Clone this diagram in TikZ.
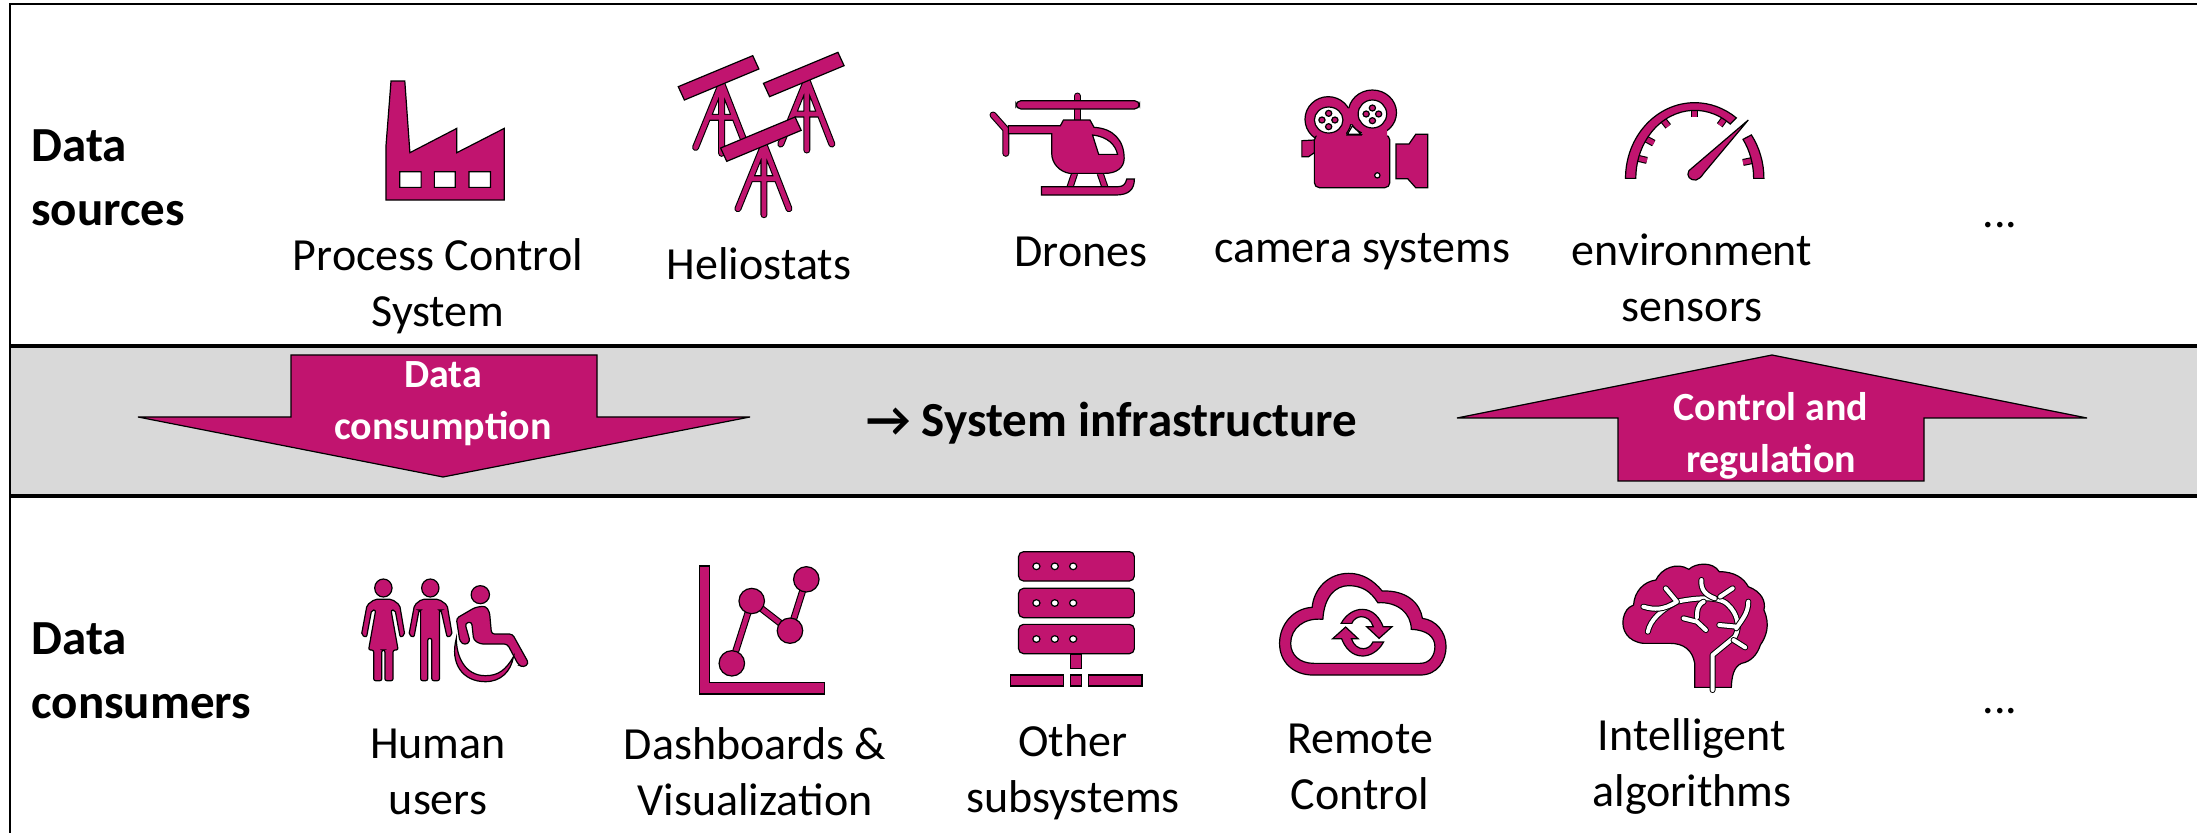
\documentclass[tikz,border=0pt]{standalone}
\usepackage{fontspec}
\setmainfont{Carlito}
\definecolor{iconpink}{HTML}{C1146F}
\definecolor{bandgrey}{HTML}{D9D9D9}
\tikzset{
  iconpart/.style={fill=iconpink,draw=black,line width=0.6pt},
  holepart/.style={fill=white,draw=black,line width=0.6pt},
  strut/.style={draw=black,double=iconpink,double distance=2.4pt,line width=0.55pt,line cap=round},
  vein/.style={draw=black,double=white,double distance=2pt,line width=0.5pt,line cap=round,line join=round},
  itemlabel/.style={font=\fontsize{23}{28}\selectfont,align=center,inner sep=0pt},
  rowlabel/.style={font=\fontsize{24.5}{32}\selectfont\bfseries,align=left,anchor=west,inner sep=0pt},
  arrowlabel/.style={font=\fontsize{20}{26}\selectfont\bfseries,text=white,align=center,inner sep=0pt},
  topleft/.style={shift={(340,30)},x=0.2551pt,y=-0.1667pt},
  topright/.style={shift={(1130,50)},x=0.2232pt,y=-0.1667pt},
  lowleft/.style={shift={(340,530)},x=0.2551pt,y=-0.1667pt},
  lowright/.style={shift={(1130,530)},x=0.2232pt,y=-0.1667pt}
}
\begin{document}
\begin{tikzpicture}[x=0.5pt,y=-0.5pt]
  \useasboundingbox(0,0)rectangle(2197,833);
  \fill[bandgrey](10,346)rectangle(2197,496);
  \draw[line width=1pt](10,833)--(10,4)--(2197,4);
  \draw[line width=1.7pt](10,346)--(2197,346);
  \draw[line width=1.7pt](10,496)--(2197,496);
  \draw[iconpart](291,355)--(597,355)--(597,417)--(750,417)--(443,477)--(138,417)--(291,417)--cycle;
  \draw[iconpart](1772,355)--(2087,418)--(1924,418)--(1924,481)--(1618,481)--(1618,418)--(1457,418)--cycle;
  \begin{scope}[topleft]
    \draw[iconpart,even odd rule](90,510)--(90,350)--(100,153)--(127,153)--(137,368)--(229,295)--(229,368)--(322,295)--(322,510)--cycle
      (117,425)rectangle(159,472)(185,425)rectangle(226,472)(253,425)rectangle(295,472);
    \foreach \dx/\dy in{0/0,167/-10,83/184}{
      \begin{scope}[shift={(\dx,\dy)}]
        \draw[strut](748,160)--(697,352)(748,160)--(797,352)(748,160)--(748,370)(722,262)--(774,262);
        \draw[iconpart](663,170)--(809,77)--(821,117)--(675,210)--cycle;
      \end{scope}
    }
    \draw[strut](1280,255)--(1305,298)--(1305,370);
    \draw[strut](1445,198)--(1445,275);
    \draw[iconpart,rounded corners=2.5pt](1325,212)rectangle(1567,237);
    \draw[strut,line cap=butt](1440,430)--(1430,475)(1490,430)--(1500,475);
    \draw[iconpart,even odd rule](1310,287)--(1412,287)--(1418,270)--(1470,270)--(1478,292)..controls(1515,295)and(1537,330)..(1537,385)
      ..controls(1537,415)and(1520,430)..(1500,430)--(1430,430)..controls(1410,425)and(1395,400)..(1395,370)--(1395,311)--(1310,311)--cycle
      (1475,315)..controls(1505,320)and(1520,345)..(1524,373)--(1487,373)--cycle;
    \draw[iconpart](1375,470)--(1525,470)..controls(1535,470)and(1540,462)..(1542,447)--(1557,447)..controls(1557,480)and(1545,495)..(1520,495)--(1375,495)--cycle;
  \end{scope}
  \begin{scope}[topright]
    \draw[iconpart](413,270)--(385,272)--(385,320)--(400,320)--(413,308)--cycle;
    \draw[iconpart](444,208)ellipse[x radius=52,y radius=68];
    \draw[iconpart](543,188)ellipse[x radius=54,y radius=68];
    \draw[iconpart,rounded corners=2.5pt](413,255)rectangle(582,413);
    \fill[iconpink](418,246)rectangle(484,262)(520,240)rectangle(576,262)(484,175)rectangle(503,222);
    \draw[holepart](487,253)--(498,228)--(518,253)--cycle;
    \draw[holepart](445,210)ellipse[x radius=32,y radius=39];
    \draw[holepart](543,192)ellipse[x radius=32,y radius=42];
    \foreach \px/\py in{445/190,430/210,459/210,445/230,543/174,529/192,557/192,543/212}
      \draw[iconpart](\px,\py)ellipse[x radius=7,y radius=9];
    \draw[holepart](554,376)ellipse[x radius=6,y radius=8];
    \draw[iconpart](596,282)--(625,282)--(640,253)--(667,253)--(667,413)--(640,413)--(622,386)--(596,386)--cycle;
    \foreach \t in{197,215,238,270,300,345}
      \draw[strut,line cap=butt]([shift={(\t:135 and 208)}]1265,385)--([shift={(\t:112 and 184)}]1265,385);
    \draw[iconpart](1110,385)arc[start angle=180,end angle=307,x radius=155,y radius=227]
      --([shift={(307:132 and 204)}]1265,385)arc[start angle=307,end angle=180,x radius=132,y radius=204]--cycle;
    \draw[iconpart]([shift={(325:155 and 227)}]1265,385)arc[start angle=325,end angle=360,x radius=155,y radius=227]
      --(1397,385)arc[start angle=360,end angle=325,x radius=132,y radius=204]--cycle;
    \draw[iconpart](1385,210)--(1252,362)..controls(1245,378)and(1255,392)..(1268,390)..controls(1275,388)and(1280,380)..(1285,370)--cycle;
  \end{scope}
  \begin{scope}[lowleft]
    \draw[iconpart](85,174)ellipse[x radius=17,y radius=27];
    \draw[iconpart,rounded corners=1pt](68,208)--(102,208)--(117,225)--(127,315)--(118,322)--(108,240)--(100,240)--(114,360)--(104,360)--(104,452)--(88,452)--(88,360)--(82,360)--(82,452)--(66,452)--(66,360)--(56,360)--(70,240)--(62,240)--(52,322)--(42,315)--(53,225)--cycle;
    \draw[iconpart](177,174)ellipse[x radius=17,y radius=27];
    \draw[iconpart,rounded corners=1pt](160,208)--(194,208)--(210,225)--(220,315)--(210,322)--(198,240)--(195,240)--(195,452)--(180,452)--(180,325)--(172,325)--(172,452)--(158,452)--(158,240)--(155,240)--(145,322)--(135,315)--(146,225)--cycle;
    \draw[iconpart](275,194)ellipse[x radius=18,y radius=27];
    \draw[iconpart,rounded corners=1.5pt](265,232)--(285,228)--(293,245)--(297,312)--(338,312)--(370,400)--(360,412)--(350,405)--(328,342)--(275,342)--(262,330)--(258,275)--(245,280)--(255,335)--(245,345)--(235,335)--(228,265)--cycle;
    \draw[iconpart](228,325)..controls(215,400)and(240,455)..(285,455)..controls(315,455)and(335,425)..(340,380)..controls(325,420)and(310,437)..(285,437)..controls(245,437)and(228,380)..(228,325)--cycle;
    \draw[iconpart](704,108)--(725,108)--(725,458)--(950,458)--(950,492)--(704,492)--cycle;
    \draw[strut](768,400)--(807,213)--(882,302)--(914,148);
    \foreach \px/\py in{768/400,807/213,882/302,914/148}
      \draw[iconpart](\px,\py)ellipse[x radius=25,y radius=38];
    \foreach \py in{65,175,283}{
      \draw[iconpart,rounded corners=2.5pt](1330,\py)rectangle(1557,\py+88);
      \foreach \px in{1365,1401,1437}
        \draw[holepart](\px,\py+44)ellipse[x radius=7,y radius=10];
    }
    \draw[iconpart](1432,372)rectangle(1454,415);
    \draw[iconpart](1314,435)rectangle(1418,468);
    \draw[iconpart](1432,435)rectangle(1454,468);
    \draw[iconpart](1467,435)rectangle(1572,468);
  \end{scope}
  \begin{scope}[lowright]
    \draw[iconpart,even odd rule](410,435)--(650,435)..controls(690,435)and(708,390)..(708,350)..controls(708,305)and(685,270)..(655,265)
      ..controls(650,220)and(620,180)..(565,183)..controls(545,150)and(520,130)..(490,130)..controls(445,130)and(412,175)..(408,232)
      ..controls(365,235)and(335,285)..(335,340)..controls(335,395)and(365,435)..(410,435)--cycle
      (412,400)--(650,400)..controls(672,400)and(683,375)..(683,350)..controls(683,320)and(665,300)..(630,298)
      ..controls(630,250)and(600,215)..(555,218)..controls(540,185)and(520,167)..(490,167)..controls(460,167)and(435,200)..(432,268)
      ..controls(390,262)and(360,295)..(360,340)..controls(360,375)and(380,400)..(412,400)--cycle;
    \foreach \a in{0,180}
      \draw[iconpart,rotate around={\a:(520.5,308)}](473,280)..controls(485,250)and(505,238)..(520,238)..controls(545,238)and(560,265)..(567,290)
        --(587,290)--(558,325)--(530,290)--(545,290)..controls(540,270)and(530,260)..(518,260)..controls(510,260)and(500,268)..(497,280)--cycle;
    \draw[iconpart](1265,472)--(1265,400)..controls(1260,360)and(1240,340)..(1210,340)--(1150,340)..controls(1115,335)and(1100,300)..(1105,265)
      ..controls(1108,245)and(1115,232)..(1128,225)..controls(1130,185)and(1150,155)..(1178,150)..controls(1190,115)and(1225,95)..(1252,118)
      ..controls(1265,100)and(1305,92)..(1320,125)..controls(1355,125)and(1375,145)..(1385,170)..controls(1415,185)and(1425,215)..(1420,240)
      ..controls(1435,285)and(1425,320)..(1412,345)..controls(1405,375)and(1390,395)..(1370,400)..controls(1352,410)and(1348,440)..(1347,472)--cycle;
    \draw[vein](1160,305)..controls(1165,270)and(1190,240)..(1225,215)..controls(1260,205)and(1320,195)..(1340,225)..controls(1360,250)and(1368,290)..(1355,320)--(1305,375)--(1305,480);
    \draw[vein](1200,175)--(1225,215)(1150,230)..controls(1175,240)and(1195,240)..(1225,215)(1280,150)..controls(1278,180)and(1290,195)..(1310,205)(1350,175)--(1322,200)
      (1385,215)..controls(1385,250)and(1370,270)..(1358,295)(1285,215)..controls(1270,225)and(1270,245)..(1270,262)(1240,265)--(1270,275)--(1290,300)(1320,285)--(1360,290)(1352,330)--(1378,352);
  \end{scope}
  \node[rowlabel](sources)at(31,178){Data\\sources};
  \node[rowlabel](consumers)at(31,671){Data\\consumers};
  \node[itemlabel](process)at(438,286){Process Control\\System};
  \node[itemlabel](heliostats)at(759,264){Heliostats};
  \node[itemlabel](drones)at(1081,252){Drones};
  \node[itemlabel](camera)at(1362,252){camera systems};
  \node[itemlabel](environment)at(1692,278){environment\\sensors};
  \node[itemlabel,anchor=base](moresources)at(2000,228){...};
  \node[arrowlabel](consumption)at(443,404){Data\\consumption};
  \node[arrowlabel](regulation)at(1771,436){Control and\\regulation};
  \node[font=\fontsize{24.5}{30}\selectfont\bfseries,inner sep=0pt](infrastructure)at(1112,423){→ System infrastructure};
  \node[itemlabel](human)at(438,772){Human\\users};
  \node[itemlabel](dashboards)at(755,772){Dashboards \&\\Visualization};
  \node[itemlabel](subsystems)at(1073,772){Other\\subsystems};
  \node[itemlabel](remote)at(1360,767){Remote\\Control};
  \node[itemlabel](algorithms)at(1692,766){Intelligent\\algorithms};
  \node[itemlabel,anchor=base](moreconsumers)at(2000,714){...};
\end{tikzpicture}
\end{document}
